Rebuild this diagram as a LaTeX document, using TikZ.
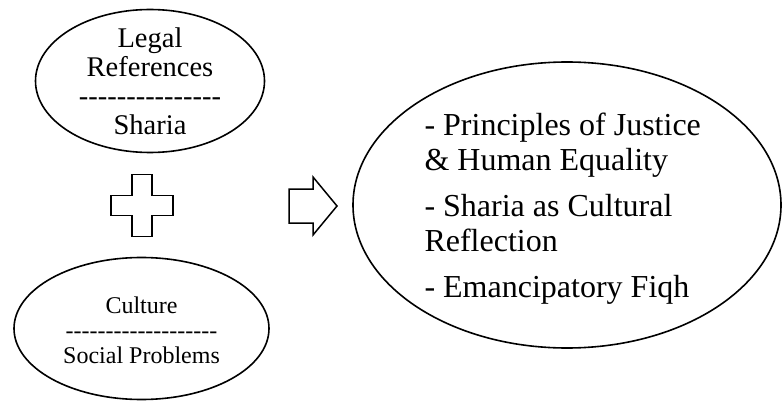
\documentclass[tikz,border=0pt]{standalone}
\usepackage{fontspec}
\setmainfont{Liberation Serif}
\usetikzlibrary{shapes.geometric}
\newcommand\hyph{-{}}
\begin{document}
\begin{tikzpicture}[x=1pt,y=-1pt,
  oval/.style={draw, ellipse, line width=1.6pt, inner sep=0pt},
  shapeline/.style={draw, line width=1.5pt, line join=miter}]
\useasboundingbox (0,0) rectangle (782,401);
% top ellipse
\node[oval, minimum width=229pt, minimum height=143pt] (legal) at (150,81) {};
\node[align=center, font=\fontsize{28.5}{29}\selectfont] (legaltext) at (150,81)
  {Legal\\References\\\hyph\hyph\hyph\hyph\hyph\hyph\hyph\hyph\hyph\hyph\hyph\hyph\hyph\hyph\hyph\\Sharia};
% bottom ellipse
\node[oval, minimum width=255pt, minimum height=142pt] (culture) at (141.5,328.5) {};
\node[align=center, font=\fontsize{24}{25}\selectfont] (culturetext) at (141.5,330)
  {Culture\\\hyph\hyph\hyph\hyph\hyph\hyph\hyph\hyph\hyph\hyph\hyph\hyph\hyph\hyph\hyph\hyph\hyph\hyph\hyph\\Social Problems};
% result ellipse
\node[oval, minimum width=428pt, minimum height=286pt] (result) at (567,205) {};
\node[align=left, anchor=west, font=\fontsize{32}{35}\selectfont] (resulttext) at (421,209)
  {- Principles of Justice\\\& Human Equality\\[11pt]- Sharia as Cultural\\Reflection\\[11pt]- Emancipatory Fiqh};
% plus sign
\coordinate (plus) at (142,205.5);
\draw[shapeline] (plus) ++(-10,-31) -- ++(20,0) -- ++(0,21) -- ++(21,0) -- ++(0,20)
  -- ++(-21,0) -- ++(0,21) -- ++(-20,0) -- ++(0,-21) -- ++(-21,0) -- ++(0,-20)
  -- ++(21,0) -- cycle;
% block arrow
\coordinate (arr) at (289,206);
\draw[shapeline] (arr) ++(0,-17) -- ++(24,0) -- ++(0,-12) -- ++(24,29) -- ++(-24,29)
  -- ++(0,-12) -- ++(-24,0) -- cycle;
\end{tikzpicture}
\end{document}
